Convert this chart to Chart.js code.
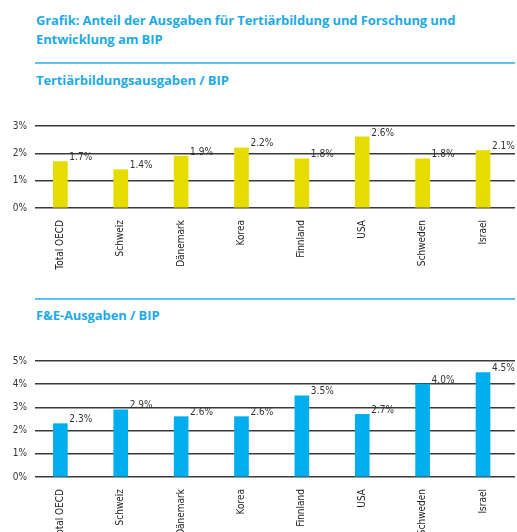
<!DOCTYPE html>
<html><head><meta charset="utf-8">
<script src="https://cdn.jsdelivr.net/npm/chart.js@4"></script>
<style>
body{margin:0;background:#fff;width:517px;height:532px;position:relative;overflow:hidden;font-family:"Open Sans","Noto Sans",sans-serif;}
.t{position:absolute;color:#1EAAE6;font-weight:bold;font-size:13px;letter-spacing:-0.1px;}
.rule{position:absolute;left:35px;width:480px;height:2px;background:#5CC4EE;}
canvas{position:absolute;left:0;}
</style></head><body>
<div class="t" style="left:36px;top:11px;line-height:19px;">Grafik: Anteil der Ausgaben für Tertiärbildung und Forschung und<br>Entwicklung am BIP</div>
<div class="rule" style="top:62px;"></div>
<div class="t" style="left:36px;top:71px;">Tertiärbildungsausgaben / BIP</div>
<div class="rule" style="top:298px;"></div>
<div class="t" style="left:36px;top:306px;">F&amp;E-Ausgaben / BIP</div>
<div style="position:absolute;left:0;top:110px;width:517px;height:170px;"><canvas id="c1"></canvas></div>
<div style="position:absolute;left:0;top:340px;width:517px;height:192px;"><canvas id="c2"></canvas></div>
<script>
const categories1 = ["Total OECD","Schweiz","Dänemark","Korea","Finnland","USA","Schweden","Israel"];
const tertiaryValues = [1.7, 1.4, 1.9, 2.2, 1.8, 2.6, 1.8, 2.1];
const tertiaryTicks = [0, 1, 2, 3];
const categories2 = ["Total OECD","Schweiz","Dänemark","Korea","Finnland","USA","Schweden","Israel"];
const rdValues = [2.3, 2.9, 2.6, 2.6, 3.5, 2.7, 4.0, 4.5];
const rdTicks = [0, 1, 2, 3, 4, 5];

const labelFont = '"Liberation Sans Narrow","DejaVu Sans Condensed","Open Sans",sans-serif';

const valueLabels = {
  id: 'valueLabels',
  afterDatasetsDraw(chart) {
    const ctx = chart.ctx;
    const meta = chart.getDatasetMeta(0);
    ctx.save();
    ctx.font = '10px ' + labelFont;
    ctx.fillStyle = '#333';
    ctx.textAlign = 'left';
    ctx.textBaseline = 'middle';
    meta.data.forEach((bar, i) => {
      const v = chart.data.datasets[0].data[i].y;
      ctx.fillText(v.toFixed(1) + '%', bar.x + bar.width / 2 + 2, bar.y - 4);
    });
    ctx.restore();
  }
};

function makeChart(id, cats, values, ticks, color, padTop, xHeight) {
  return new Chart(document.getElementById(id), {
    type: 'bar',
    data: {
      datasets: [{
        data: values.map((v, i) => ({x: i, y: v})),
        backgroundColor: color,
        barThickness: 14
      }]
    },
    options: {
      responsive: true, maintainAspectRatio: false, animation: false,
      layout: {padding: {top: padTop, right: 2, left: 0, bottom: 0}},
      plugins: {legend: {display: false}, tooltip: {enabled: false}},
      scales: {
        x: {
          type: 'linear', min: -0.42, max: 7.53, offset: false,
          afterBuildTicks: s => { s.ticks = cats.map((_, i) => ({value: i})); },
          afterFit: s => { s.height = xHeight; },
          grid: {display: false, offset: false}, border: {display: false},
          ticks: {
            autoSkip: false, minRotation: 90, maxRotation: 90, padding: 4,
            color: '#222', font: {family: labelFont, size: 10},
            callback: v => cats[v]
          }
        },
        y: {
          min: ticks[0], max: ticks[ticks.length - 1],
          afterBuildTicks: s => { s.ticks = ticks.map(v => ({value: v})); },
          afterFit: s => { s.width = 35; },
          border: {display: false},
          grid: {color: '#3a3a3a', lineWidth: 1.5, drawTicks: false},
          ticks: {padding: 8, color: '#333', font: {family: labelFont, size: 10}, callback: v => v + '%'}
        }
      }
    },
    plugins: [valueLabels]
  });
}

makeChart('c1', categories1, tertiaryValues, tertiaryTicks, '#E6DC00', 16, 72);
makeChart('c2', categories2, rdValues, rdTicks, '#00AEEF', 21, 55);
</script>
</body></html>
